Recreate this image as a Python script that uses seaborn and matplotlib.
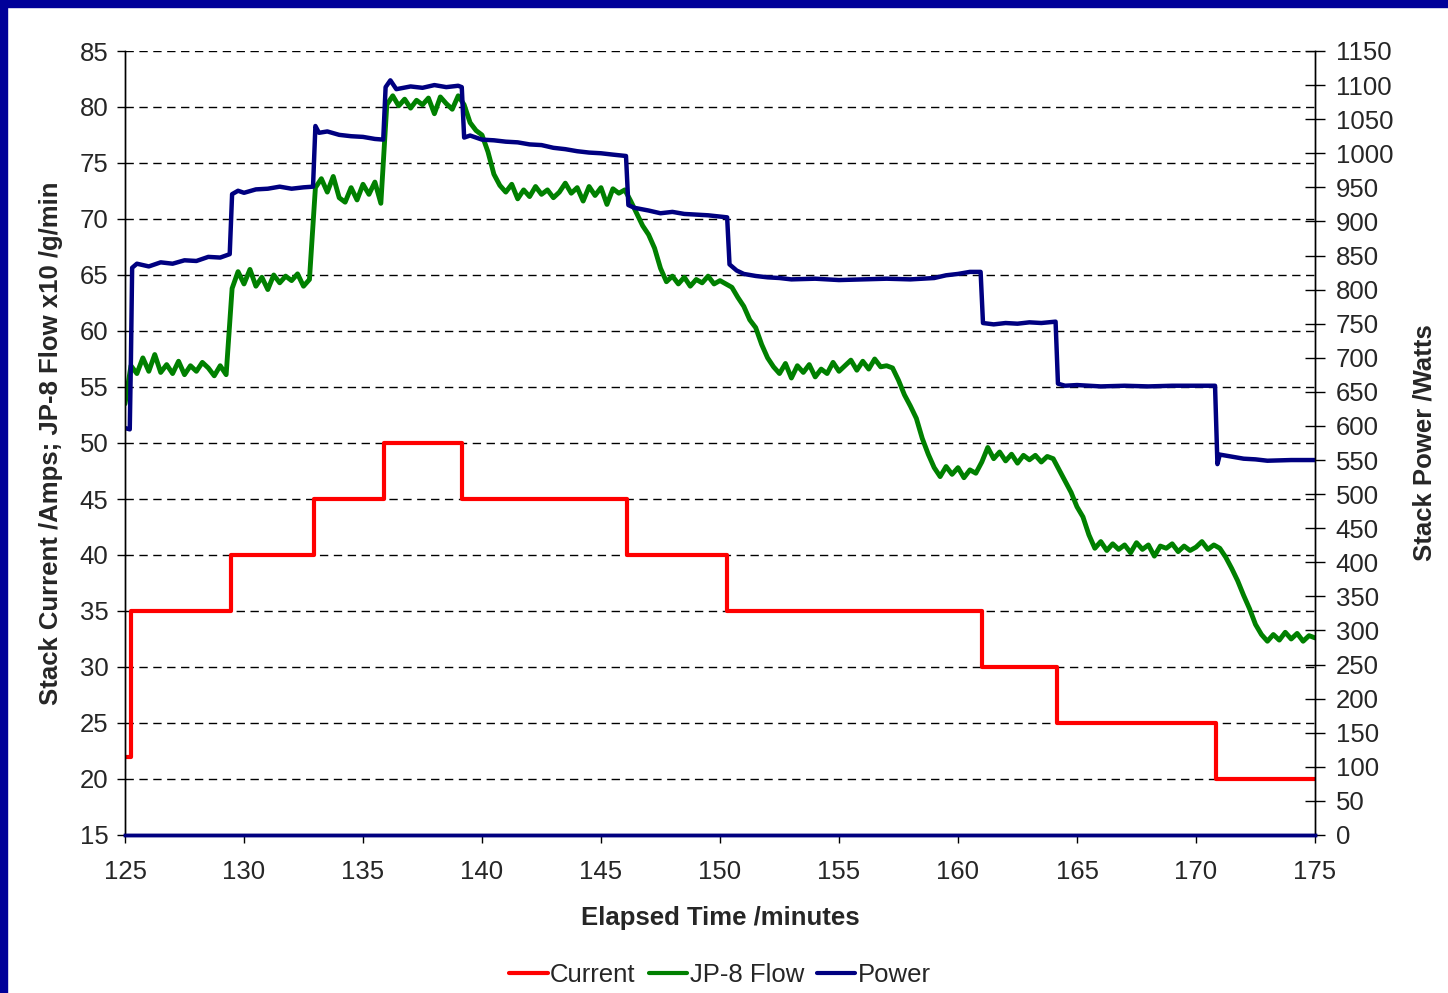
import numpy as np
import pandas as pd
import matplotlib
matplotlib.use('Agg')
import matplotlib.pyplot as plt
import seaborn as sns
from matplotlib.lines import Line2D
from matplotlib.patches import Rectangle

# Stack current (A): level start times, step-post
current_time = [125.0, 125.25, 129.45, 132.95, 135.9, 139.15, 146.1, 150.3,
                161.0, 164.15, 170.85, 175.0]
current_amps = [22, 35, 40, 45, 50, 45, 40, 35, 30, 25, 20, 20]

# JP-8 flow (x10 g/min), read every 0.25 min
flow_time = [125.0 + 0.25 * i for i in range(201)]
flow_value = [
    53.5, 56.9, 56.2, 57.6, 56.4, 57.9, 56.3, 57.0, 56.2, 57.3,
    56.1, 56.9, 56.4, 57.2, 56.7, 56.0, 56.9, 56.1, 63.8, 65.3,
    64.2, 65.5, 64.0, 64.8, 63.7, 65.0, 64.3, 64.9, 64.5, 65.1,
    64.0, 64.6, 72.8, 73.6, 72.4, 73.8, 71.9, 71.5, 72.8, 71.7,
    73.1, 72.2, 73.3, 71.4, 80.2, 81.0, 80.1, 80.7, 79.9, 80.6,
    80.2, 80.8, 79.4, 80.9, 80.3, 79.8, 81.0, 80.2, 78.6, 77.9,
    77.5, 76.0, 74.0, 73.0, 72.4, 73.1, 71.8, 72.6, 72.0, 72.9,
    72.2, 72.6, 71.9, 72.4, 73.2, 72.3, 72.8, 71.6, 72.9, 72.1,
    72.8, 71.3, 72.7, 72.3, 72.6, 71.6, 70.5, 69.4, 68.6, 67.4,
    65.6, 64.4, 64.9, 64.2, 64.8, 64.0, 64.6, 64.3, 64.9, 64.2,
    64.5, 64.2, 63.9, 63.0, 62.2, 61.0, 60.3, 58.8, 57.6, 56.8,
    56.2, 57.1, 55.8, 56.9, 56.3, 57.0, 55.9, 56.6, 56.2, 57.2,
    56.4, 56.9, 57.4, 56.5, 57.3, 56.6, 57.5, 56.8, 56.9, 56.7,
    55.6, 54.3, 53.3, 52.2, 50.4, 49.0, 47.8, 47.0, 47.9, 47.2,
    47.8, 46.9, 47.6, 47.3, 48.3, 49.6, 48.6, 49.2, 48.4, 49.0,
    48.2, 48.9, 48.5, 48.9, 48.3, 48.8, 48.6, 47.6, 46.6, 45.6,
    44.3, 43.4, 41.8, 40.6, 41.2, 40.4, 41.0, 40.5, 40.9, 40.2,
    41.1, 40.5, 40.9, 39.9, 40.8, 40.6, 41.0, 40.3, 40.8, 40.4,
    40.7, 41.2, 40.5, 40.9, 40.6, 39.8, 38.8, 37.7, 36.4, 35.2,
    33.8, 32.9, 32.3, 32.9, 32.4, 33.1, 32.5, 33.0, 32.3, 32.8,
    32.6,
]

# Stack power (W)
power_time = [
    125.0, 125.2, 125.25, 125.3, 125.5, 126.0, 126.5, 127.0, 127.5, 128.0,
    128.5, 129.0, 129.4, 129.5, 129.75, 130.0, 130.5, 131.0, 131.5, 132.0,
    132.5, 132.9, 133.0, 133.15, 133.5, 134.0, 134.5, 135.0, 135.5, 135.85,
    135.95, 136.15, 136.4, 137.0, 137.5, 138.0, 138.5, 139.0, 139.15, 139.25,
    139.5, 140.0, 140.5, 141.0, 141.5, 142.0, 142.5, 143.0, 143.5, 144.0,
    144.5, 145.0, 145.5, 146.05, 146.15, 146.4, 147.0, 147.5, 148.0, 148.5,
    149.0, 149.5, 150.3, 150.4, 150.7, 151.0, 151.5, 152.0, 152.5, 153.0,
    154.0, 155.0, 156.0, 157.0, 158.0, 159.0, 159.5, 160.0, 160.5, 160.95,
    161.05, 161.5, 162.0, 162.5, 163.0, 163.5, 164.1, 164.2, 164.5, 165.0,
    166.0, 167.0, 168.0, 169.0, 170.0, 170.8, 170.9, 171.0, 171.5, 172.0,
    172.5, 173.0, 174.0, 175.0,
]
power_watts = [
    597, 595, 700, 832, 838, 834, 840, 838, 843, 842,
    848, 847, 852, 940, 945, 942, 947, 948, 951, 948,
    950, 951, 1040, 1030, 1032, 1027, 1025, 1024, 1021, 1020,
    1097, 1107, 1094, 1098, 1096, 1100, 1097, 1099, 1097, 1023,
    1026, 1020, 1019, 1017, 1016, 1013, 1012, 1008, 1006, 1003,
    1001, 1000, 998, 996, 924, 920, 916, 912, 914, 911,
    910, 909, 906, 837, 828, 823, 820, 818, 817, 815,
    816, 814, 815, 816, 815, 817, 821, 823, 826, 826,
    751, 749, 751, 750, 752, 751, 753, 662, 659, 660,
    658, 659, 658, 659, 659, 659, 544, 558, 555, 552,
    551, 549, 550, 550,
]

NAVY = '#000080'
RED = '#ff0000'
GREEN = '#008000'
FS = 18.5

sns.set_theme(style='white')
plt.rcParams['font.family'] = ['Liberation Sans', 'DejaVu Sans']

fig = plt.figure(figsize=(14.48, 9.93), dpi=100)
ax = fig.add_axes([125 / 1448, 1 - 835 / 993, 1190 / 1448, 784 / 993])
ax2 = ax.twinx()

cur_df = pd.DataFrame({'t': current_time, 'v': current_amps})
flow_df = pd.DataFrame({'t': flow_time, 'v': flow_value})
pow_df = pd.DataFrame({'t': power_time, 'v': power_watts})

sns.lineplot(data=cur_df, x='t', y='v', ax=ax, color=RED, lw=3,
             drawstyle='steps-post', estimator=None, sort=False)
sns.lineplot(data=flow_df, x='t', y='v', ax=ax, color=GREEN, lw=3.5,
             estimator=None, sort=False)
sns.lineplot(data=pow_df, x='t', y='v', ax=ax2, color=NAVY, lw=3.2,
             estimator=None, sort=False)

ax.set_xlim(125, 175)
ax.set_ylim(15, 85)
ax2.set_ylim(0, 1150)
ax.set_xticks(np.arange(125, 176, 5))
ax.set_yticks(np.arange(15, 86, 5))
ax2.set_yticks(np.arange(0, 1151, 50))

for y in np.arange(20, 86, 5):
    ax.axhline(y, color='black', lw=1, ls=(0, (6, 4)), zorder=0)

ax.set_xlabel('Elapsed Time /minutes', fontsize=FS, fontweight='bold', labelpad=16)
ax.set_ylabel('Stack Current /Amps; JP-8 Flow x10 /g/min', fontsize=FS,
              fontweight='bold', labelpad=12)
ax2.set_ylabel('Stack Power /Watts', fontsize=FS, fontweight='bold', labelpad=14)

ax.tick_params(axis='both', labelsize=FS, direction='out', length=6, width=1,
               color='black', pad=6)
ax.tick_params(axis='x', bottom=True, pad=12)
ax.tick_params(axis='y', left=True)
ax2.tick_params(axis='y', labelsize=FS, direction='inout', length=14, width=1,
                right=True, color='black', pad=8)

for a in (ax, ax2):
    a.spines['top'].set_visible(False)
    a.spines['left'].set_color('black')
    a.spines['right'].set_color('black')
    a.spines['left'].set_linewidth(1)
    a.spines['right'].set_linewidth(1)
    a.spines['bottom'].set_color(NAVY)
    a.spines['bottom'].set_linewidth(2.5)
    a.set_facecolor('none')

handles = [Line2D([], [], color=RED, lw=3),
           Line2D([], [], color=GREEN, lw=3),
           Line2D([], [], color=NAVY, lw=3)]
fig.legend(handles, ['Current', 'JP-8 Flow', 'Power'], loc='center',
           bbox_to_anchor=(720 / 1448, 1 - 975 / 993), ncol=3, frameon=False,
           fontsize=FS, handlelength=1.5, handletextpad=0.1, columnspacing=0.5)

# navy frame on left and top edges
fig.patches.append(Rectangle((0, 0), 7 / 1448, 1, transform=fig.transFigure,
                             color='#000099', zorder=10))
fig.patches.append(Rectangle((0, 1 - 7 / 993), 1, 7 / 993,
                             transform=fig.transFigure, color='#000099', zorder=10))

fig.savefig('out.png', dpi=100)
